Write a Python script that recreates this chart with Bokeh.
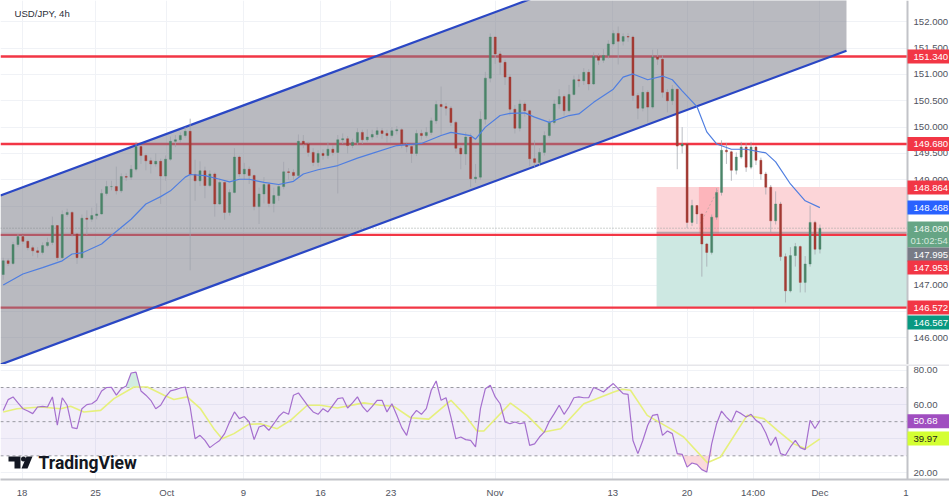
from bokeh.plotting import figure
from bokeh.layouts import column
from bokeh.models import Label, BoxAnnotation, Range1d, FixedTicker, ColumnDataSource
from bokeh.core.properties import value
from bokeh.embed import file_html
from bokeh.resources import INLINE

closes = [147.46,147.41,147.77,147.92,147.83,147.71,147.65,147.62,147.75,147.81,148.13,147.52,148.34,148.38,147.97,147.52,148.27,148.25,148.32,148.35,
148.74,148.87,148.87,148.79,149.06,149.05,149.20,149.63,149.46,149.36,149.30,149.35,149.07,149.39,149.73,149.76,149.84,149.92,149.10,148.98,
149.17,148.89,149.11,148.54,148.95,148.38,148.76,149.43,149.11,149.20,149.08,148.49,148.73,148.91,148.55,148.70,148.87,149.15,149.14,149.08,
149.73,149.68,149.52,149.33,149.50,149.46,149.58,149.52,149.76,149.78,149.65,149.71,149.90,149.76,149.81,149.86,149.93,149.88,149.84,149.93,
149.95,149.68,149.63,149.50,149.88,149.84,149.90,150.12,150.43,150.39,150.36,150.09,149.60,149.49,149.81,149.02,149.05,150.15,150.93,151.71,
151.39,151.23,150.95,150.34,149.98,150.44,150.31,149.40,149.33,149.52,149.84,150.09,150.44,150.58,150.31,150.62,150.90,150.88,151.04,150.82,
151.34,151.27,151.36,151.58,151.78,151.63,151.72,151.71,150.60,150.36,150.66,150.38,151.33,151.29,150.66,150.50,150.72,149.64,149.68,148.19,
148.51,148.35,147.78,147.62,148.29,148.76,149.56,149.53,149.18,149.43,149.62,149.24,149.62,149.37,149.11,148.86,148.22,148.54,147.54,146.89,
147.56,147.73,147.05,147.40,148.19,147.68,148.08]
highs = [147.52,147.50,147.82,147.97,147.95,147.86,147.75,147.72,147.81,147.90,148.30,148.14,148.42,148.45,148.40,147.98,148.34,148.42,148.47,148.55,
148.82,148.98,148.98,149.25,149.12,149.12,149.28,149.72,149.66,149.50,149.42,149.50,149.40,149.46,149.82,149.85,149.90,150.00,150.16,149.38,
149.35,149.25,149.18,149.14,149.02,148.96,148.82,149.60,149.46,149.32,149.25,149.10,148.85,149.05,148.95,148.85,148.92,149.34,149.22,149.20,
149.86,149.85,149.72,149.60,149.56,149.58,149.72,149.66,149.85,149.88,149.83,149.78,149.98,149.95,149.96,149.95,150.00,149.98,149.95,150.00,
150.02,149.98,149.72,149.66,149.95,149.95,150.00,150.18,150.50,150.77,150.46,150.40,150.12,149.65,149.90,149.88,149.30,150.30,151.05,151.78,
151.72,151.44,151.28,151.00,150.42,150.52,150.48,150.33,149.75,149.60,149.92,150.15,150.52,150.72,150.62,150.80,150.98,151.00,151.12,151.10,
151.42,151.40,151.48,151.65,151.84,151.91,151.78,151.78,151.74,150.65,150.78,150.70,151.47,151.48,151.36,150.72,150.80,150.62,150.00,149.70,
148.62,148.52,148.36,147.80,148.34,148.84,149.75,149.70,149.55,149.52,149.72,149.70,149.72,149.65,149.42,149.15,148.90,148.78,148.58,147.60,
147.72,147.80,147.75,147.55,148.51,148.22,148.15]
lows = [147.10,147.36,147.38,147.72,147.78,147.66,147.55,147.52,147.58,147.72,147.76,147.46,147.50,148.30,147.92,147.40,147.50,147.95,148.20,148.25,
148.34,148.70,148.80,148.72,148.75,148.98,149.00,149.16,149.30,149.18,149.12,149.25,148.54,148.98,149.36,149.62,149.70,149.80,147.28,148.60,
148.88,148.65,148.86,148.30,148.52,148.24,148.32,148.74,149.05,149.00,148.92,148.42,148.16,148.55,148.48,148.38,148.60,148.82,149.00,149.00,
149.05,149.60,149.44,149.26,149.25,149.38,149.40,149.46,148.74,149.68,149.50,149.60,149.66,149.68,149.72,149.76,149.80,149.78,149.70,149.80,
149.86,149.60,149.52,149.32,149.45,149.76,149.80,149.85,150.06,149.85,150.22,150.02,149.52,149.20,149.28,148.86,148.94,149.00,150.05,150.85,
151.20,151.00,150.80,150.22,149.88,149.92,150.20,149.26,149.24,149.26,149.46,149.80,150.05,150.35,150.22,150.28,150.60,150.76,150.80,150.70,
150.80,151.18,151.22,151.30,151.55,151.19,151.55,151.62,150.50,150.15,150.30,150.09,150.35,151.18,150.56,150.28,150.42,149.20,149.50,148.08,
148.12,148.16,147.16,147.35,147.58,148.24,148.70,149.30,148.98,149.10,149.40,149.15,149.20,149.28,149.00,148.72,148.00,148.15,147.46,146.67,
146.86,147.35,146.86,146.86,147.35,147.58,147.60]
first_open = 147.20

ma_bar = [0,4,8,12,14,16,20,22,26,29,32,34,37,38,41,44,46,48,50,53,56,59,61,64,68,72,75,80,85,89,91,95,96,98,101,103,106,108,111,115,117,120,124,126,128,131,134,136,138,141,143,145,148,151,155,157,160,163,166]
ma_val = [147.00,147.21,147.33,147.46,147.59,147.61,147.78,147.94,148.25,148.54,148.68,148.79,149.05,149.10,149.08,149.01,148.96,149.01,149.01,148.95,148.91,148.97,149.11,149.19,149.27,149.41,149.50,149.65,149.69,149.84,149.90,149.84,149.77,150.00,150.22,150.26,150.27,150.19,150.09,150.22,150.25,150.47,150.72,150.95,151.01,150.90,150.97,150.90,150.69,150.39,149.91,149.68,149.58,149.58,149.51,149.34,148.92,148.60,148.47]

rsi = [56.6,62.9,64.5,61,57.6,56.2,54.7,58.6,59,58.6,64.5,47.9,64,59.6,46.5,45.9,57.6,60,60.5,62.5,
68,70,70.1,65.5,69.3,70.9,78.5,79,68,65.5,62.5,57.6,59.6,64.5,68,68.8,69.7,70.3,58.6,40,
42,39,34.8,37,39,43,49.8,55.7,51.8,53,49.8,39.5,46.9,47.9,44.9,48.8,53,55.7,54.3,65.5,
66.8,62.9,59,55.7,54.3,57.6,55.7,59.6,63.5,64,58,61,64.5,59,55.7,59,62.5,62.5,55.7,60.5,
53.7,46.5,42,53,56.6,54.3,57.6,68.4,73.8,62.5,64,52.7,40,41,39.5,39,35.2,57.6,69.3,71.3,
64.5,60.5,49.8,48.8,49.8,48.8,49.4,36.1,37,41,44,50.2,54.7,59.6,54.3,58.6,64,64.5,64,64,
70,68.8,67.4,70,72.3,69.3,66.4,66,39,31.3,39,47.9,53.7,54.3,42,44.5,43,31.3,30.9,23.4,
25.8,25,21.9,20.5,37,48.8,56.2,52.7,49.8,56.2,54.7,52.7,54.3,50.8,48.8,43.4,36.1,41,31.3,30.3,
35.2,39,34.8,33.6,50.8,46,50.68]
rsi_ma_bar = [0,2.8,7.6,11.7,13.7,16.4,19.8,22.5,26.6,29.3,32.7,34.7,37.4,40.1,42.8,44.5,46.9,49.9,52.3,55.7,58.4,61.8,64.5,67.9,73.3,76.7,79.4,82.8,86.5,91,93.6,96.3,97.7,103.1,106.5,109.9,113.3,118,124.1,125.8,127.5,130.9,135.6,138.3,143.1,145.8,151.2,154.6,157.3,160.7,163.1,166]
rsi_ma_val = [55.7,57.6,58.6,57.6,59,55.7,56.6,63.5,70.3,70.3,65.5,63,64.5,57.6,45.9,40,43,48.4,48.8,45.9,50.8,59.6,59.6,58,61,59.6,59,52.3,51.5,62.5,54.7,44.5,44.5,60.9,53.7,43.9,45.9,60.5,67.4,69,68.4,53.7,45.9,41,26,29.3,53.7,51.8,45,37,34.2,39.97]

price_ticks = [146.0,146.5,147.0,147.5,148.0,148.5,149.0,149.5,150.0,150.5,151.0,151.5,152.0]
rsi_ticks = [20,40,60,80]
time_ticks = [3.82,18.76,33.25,48.84,64.5,78.8,99.96,123.9,139.0,152.4,166.0,183.5]
time_labels = ["18","25","Oct","9","16","23","Nov","13","20","14:00","Dec","1"]
red_levels = [151.34,149.68,147.953,146.572]
channel_bar = [-0.55,171.4]
channel_low = [145.49,151.45]
channel_high = [148.70,154.66]
zone_bar = [132.8,183.8]
zone_top, zone_mid, zone_bot = 148.864,147.953,146.572
entry_bar = [141.4,145.5]
entry_price = [147.98,148.864]
dash_bar = [141.7,145.2]
dash_price = [148.17,148.80]

UP, DOWN = "#4a8468", "#a23a33"
FONT = "Liberation Sans"
GRID = "#f0f2f6"
AXIS = "#c2c3c8"
TICK = "#50535e"
TEXT_PX = "9.6px"
BAR_X0, BAR_PX = -0.55, 4.92
PANE_W, W, MAIN_H, RSI_H = 907, 949, 364, 115
PANE_END = BAR_X0 + PANE_W / BAR_PX
FULL_END = BAR_X0 + W / BAR_PX

def to_x(px):
    return BAR_X0 + px / BAR_PX

opens = [first_open] + closes[:-1]
bars = list(range(len(closes)))
up = [c >= o for o, c in zip(opens, closes)]
src = ColumnDataSource(dict(x=bars, o=opens, c=closes, h=highs, l=lows,
                            col=[UP if u else DOWN for u in up]))
x_range = Range1d(BAR_X0, FULL_END)

def style_common(p, ticks):
    p.min_border_left = p.min_border_top = p.min_border_bottom = p.min_border_right = 0
    p.outline_line_color = None
    p.background_fill_color = "white"
    p.border_fill_color = "white"
    p.xgrid.ticker = FixedTicker(ticks=time_ticks[:-1])
    p.xgrid.grid_line_color = GRID
    p.ygrid.grid_line_color = GRID
    p.ygrid.ticker = FixedTicker(ticks=ticks)

def scale_side(p, y0, y1, ticks, labels):
    # the price scale area at the right of the panes, inside the frame
    p.quad(left=PANE_END, right=FULL_END, top=y1, bottom=y0, fill_color="white", line_color=None)
    p.segment(x0=PANE_END, x1=PANE_END, y0=y0, y1=y1, line_color=AXIS, line_width=2)
    p.text(x=[to_x(913)] * len(ticks), y=ticks, text=labels, text_font=value(FONT), text_font_size=TEXT_PX,
           text_color=TICK, text_baseline="middle", text_align="left")

def tag(fig, frame_top, frame_h, text, ref_y, bg, fg="white", half=7, text_x=913):
    y = frame_h - (ref_y - frame_top)
    fig.add_layout(BoxAnnotation(left=PANE_W, right=W, top=y + half, bottom=y - half,
                                 left_units="screen", right_units="screen",
                                 top_units="screen", bottom_units="screen",
                                 fill_color=bg, fill_alpha=1, line_color=None, level="overlay"))
    fig.add_layout(Label(x=text_x, y=y, x_units="screen", y_units="screen", level="overlay",
                         text=text, text_color=fg, text_font=FONT, text_font_size=TEXT_PX,
                         text_baseline="middle", text_align="left"))

# ---------------- price pane
P_LOW, P_HIGH = 145.491, 152.405
p = figure(frame_width=W, frame_height=MAIN_H, x_range=x_range, y_range=Range1d(P_LOW, P_HIGH),
           y_axis_location=None, x_axis_location=None, output_backend="svg", toolbar_location=None)
style_common(p, price_ticks)

p.quad(left=zone_bar[0], right=zone_bar[1], top=zone_top, bottom=zone_mid, fill_color="#fcd5d8", line_color=None)
p.quad(left=zone_bar[0], right=zone_bar[1], top=zone_mid, bottom=zone_bot, fill_color="#cde8e2", line_color=None)
p.quad(left=entry_bar[0], right=entry_bar[1], top=entry_price[1], bottom=entry_price[0], fill_color="#fdb5bb", line_color=None)
p.line(dash_bar, dash_price, line_color="#c9a9a9", line_dash="2 2", line_width=1)
p.segment(x0=zone_bar[0], x1=zone_bar[1], y0=147.995, y1=147.995, line_color="#787b86", line_alpha=0.55, line_width=2)
p.segment(x0=BAR_X0, x1=zone_bar[1], y0=148.08, y1=148.08, line_color="#9aa39f", line_dash="1 2", line_width=1)
for lvl in red_levels:
    p.segment(x0=BAR_X0, x1=zone_bar[1], y0=lvl, y1=lvl, line_color="#f23645", line_width=2.4)

p.patch(channel_bar + channel_bar[::-1], channel_high + channel_low[::-1],
        fill_color="#787b86", fill_alpha=0.52, line_color=None)
p.line(channel_bar, channel_high, line_color="#2a47c4", line_width=2.2)
p.line(channel_bar, channel_low, line_color="#2a47c4", line_width=2.2)

p.segment("x", "h", "x", "l", source=src, line_color="#a0a3ab", line_alpha=0.7, line_width=1)
p.vbar("x", 0.42, "o", "c", source=src, fill_color="col", line_color="col", line_width=0.4)
p.line(ma_bar, ma_val, line_color="#4f7ee0", line_width=1.2)

scale_side(p, P_LOW, P_HIGH, price_ticks, [f"{t:.3f}" for t in price_ticks])

p.add_layout(Label(x=14, y=MAIN_H - 13, x_units="screen", y_units="screen", text="USD/JPY, 4h",
                   text_font=FONT, text_font_size=TEXT_PX, text_color="#2a2e39",
                   text_baseline="middle", text_align="left"))
tag(p, 0, MAIN_H, "151.340", 56, "#f23645")
tag(p, 0, MAIN_H, "149.680", 143.5, "#f23645")
tag(p, 0, MAIN_H, "148.864", 187, "#f23645")
tag(p, 0, MAIN_H, "148.468", 207, "#2962ff")
tag(p, 0, MAIN_H, "148.080", 228, "#66a585", "#eef5f0")
tag(p, 0, MAIN_H, "01:02:54", 240, "#66a585", "#d5e8dd", text_x=910)
tag(p, 0, MAIN_H, "147.995", 254, "#787b86")
tag(p, 0, MAIN_H, "147.953", 267, "#f23645")
tag(p, 0, MAIN_H, "146.572", 307, "#f23645")
tag(p, 0, MAIN_H, "146.567", 322, "#089981")

# ---------------- RSI pane
R_LOW, R_HIGH = 16.14, 83.47
r = figure(frame_width=W, frame_height=RSI_H, x_range=x_range, y_range=Range1d(R_LOW, R_HIGH),
           y_axis_location=None, x_axis_location="below", output_backend="svg", toolbar_location=None)
style_common(r, rsi_ticks)
xa = r.xaxis[0]
xa.ticker = FixedTicker(ticks=time_ticks)
xa.major_label_overrides = dict(zip(time_ticks, time_labels))
xa.major_tick_line_color = None
xa.minor_tick_line_color = None
xa.major_tick_out = 0
xa.major_tick_in = 0
xa.axis_line_color = AXIS
xa.axis_line_width = 2
xa.major_label_text_font = FONT
xa.major_label_text_font_size = TEXT_PX
xa.major_label_text_color = TICK
xa.major_label_standoff = 7

r.quad(left=BAR_X0, right=PANE_END, top=70, bottom=30, fill_color="#7e57c2", fill_alpha=0.1, line_color=None)
for lvl in [70, 50, 30]:
    r.segment(x0=BAR_X0, x1=PANE_END, y0=lvl, y1=lvl, line_color="#9a9aa2", line_dash="3 3", line_width=1)
r.varea(bars[137:145], rsi[137:145], [30] * 8, fill_color="#f9c9cd", fill_alpha=0.7)
r.varea(bars[25:29], [70] * 4, rsi[25:29], fill_color="#bfe5d6", fill_alpha=0.7)
r.line(rsi_ma_bar, rsi_ma_val, line_color="#e6f07c", line_width=1.6)
r.line(bars, rsi, line_color="#a56fce", line_width=1.2)
scale_side(r, R_LOW, R_HIGH, rsi_ticks, [f"{t:.2f}" for t in rsi_ticks])
r.segment(x0=BAR_X0, x1=FULL_END, y0=R_HIGH, y1=R_HIGH, line_color="#e6e6ea", line_width=3)

def to_y(py):
    return R_HIGH - (py - MAIN_H) / 1.708

LOGO = "#131722"
r.patch([to_x(8), to_x(20), to_x(20), to_x(14), to_x(14), to_x(8)],
        [to_y(456), to_y(456), to_y(468), to_y(468), to_y(461), to_y(461)], fill_color=LOGO, line_color=None)
r.scatter([to_x(23)], [to_y(458.5)], size=5, fill_color=LOGO, line_color=None)
r.patch([to_x(26), to_x(32), to_x(27), to_x(21)],
        [to_y(456), to_y(456), to_y(468), to_y(468)], fill_color=LOGO, line_color=None)
r.add_layout(Label(x=38, y=RSI_H - (462 - MAIN_H), x_units="screen", y_units="screen", text="TradingView",
                   text_font="Roboto", text_font_size="17.5px", text_font_style="bold", text_color=LOGO,
                   text_baseline="middle", text_align="left"))
tag(r, MAIN_H, RSI_H, "50.68", 420.7, "#a04ec0")
tag(r, MAIN_H, RSI_H, "39.97", 438, "#d4ff33", "#1c1c1c")

layout = column(p, r, spacing=0)
open("out.html", "w").write(file_html(layout, INLINE))
